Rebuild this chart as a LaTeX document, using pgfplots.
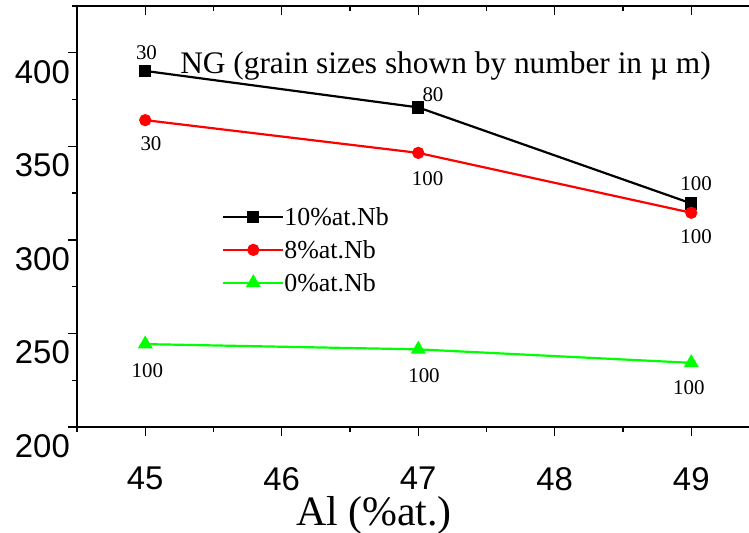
\documentclass[border=0pt]{standalone}
\usepackage{fontspec}
\setmainfont{Liberation Serif}
\newfontfamily\arial{Liberation Sans}
\usepackage{pgfplots}
\pgfplotsset{compat=1.18}
\definecolor{ngreen}{RGB}{0,255,0}
\definecolor{nred}{RGB}{255,0,0}
\begin{document}
\begin{tikzpicture}
\begin{axis}[
 at={(0,0)}, anchor=south west,
 scale only axis, width=682.5bp, height=421bp,
 xmin=44.5, xmax=49.5, ymin=200, ymax=425,
 axis x line*=bottom, axis y line*=left,
 axis line style={line width=1.5bp},
 tick align=outside,
 major tick length=9bp, minor tick length=5bp,
 tick style={line width=1.3bp, black},
 xtick={45,46,47,48,49}, minor xtick={44.5,45.5,46.5,47.5,48.5,49.5},
 ytick={200,250,300,350,400}, minor ytick={225,275,325,375,425},
 /pgf/number format/assume math mode=true,
 ticklabel style={font=\arial\fontsize{33}{36}\selectfont, inner sep=0pt},
 xticklabel style={anchor=north, yshift=-31bp},
 yticklabel style={anchor=east, xshift=2bp, yshift=-19bp},
 xlabel={Al (\%at.)},
 xlabel style={font=\fontsize{42}{46}\selectfont, inner sep=0pt, at={(axis description cs:0.435,-0.21)}, anchor=center},
 legend style={draw=none, fill=none, at={(axis description cs:0.2125,0.5226)}, anchor=north west,
   font=\fontsize{26}{28}\selectfont, inner sep=0pt, row sep=13.5bp, nodes={inner sep=0pt}},
 legend cell align=left,
 legend image code/.code={\draw[mark repeat=2,mark phase=2] plot coordinates {(0bp,0bp) (30bp,0bp) (60bp,0bp)};},
]
\addplot[black, line width=2.2bp, mark=square*, mark size=5bp, mark options={solid}] coordinates {(45,390.3) (47,370.8) (49,319.5)};
\addlegendentry{10\%at.Nb}
\addplot[nred, line width=2.2bp, mark=*, mark size=5bp, mark options={solid}] coordinates {(45,364) (47,346.5) (49,314.5)};
\addlegendentry{8\%at.Nb}
\addplot[ngreen, line width=2.2bp, mark=triangle*, mark size=6.5bp, mark options={solid}] coordinates {(45,244.3) (47,241.5) (49,234.3)};
\addlegendentry{0\%at.Nb}
\begin{scope}[every node/.style={font=\fontsize{21}{24}\selectfont, inner sep=0pt}]
\node at (axis cs:45.009,400.05) {30};
\node at (axis cs:45.042,351.4) {30};
\node at (axis cs:47.108,377.4) {80};
\node at (axis cs:47.068,332.7) {100};
\node at (axis cs:49.035,329.8) {100};
\node at (axis cs:49.035,301.8) {100};
\node at (axis cs:45.016,229.9) {100};
\node at (axis cs:47.042,227.2) {100};
\node at (axis cs:48.983,220.8) {100};
\end{scope}
\node[anchor=base west, inner sep=0pt, font=\fontsize{31.5}{34}\selectfont] at (axis cs:45.255,389.1) {NG (grain sizes shown by number in µ m)};
\end{axis}
\begin{axis}[
 at={(0,0)}, anchor=south west,
 scale only axis, width=682.5bp, height=421bp,
 xmin=44.5, xmax=49.5, ymin=200, ymax=425,
 axis x line*=top, hide y axis,
 axis line style={line width=1.5bp},
 tick align=inside,
 major tick length=9bp, minor tick length=5bp,
 tick style={line width=1.3bp, black},
 xtick={45,46,47,48,49}, minor xtick={44.5,45.5,46.5,47.5,48.5,49.5},
 xticklabels={},
]
\end{axis}
\pgfresetboundingbox
\path (-77bp,-106bp) rectangle (672bp,427bp);
\end{tikzpicture}
\end{document}
